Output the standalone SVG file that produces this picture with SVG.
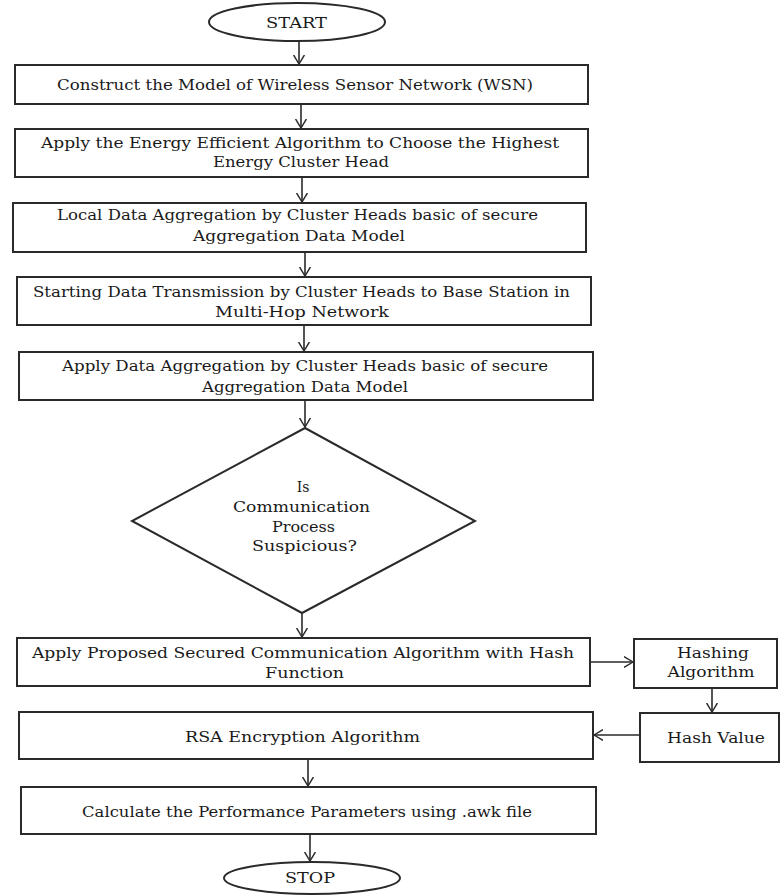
<svg xmlns="http://www.w3.org/2000/svg" width="783" height="895" viewBox="0 0 783 895">
<style>
  .shape { fill: #ffffff; stroke: #2a2a2a; stroke-width: 2; }
  .conn { fill: none; stroke: #2a2a2a; stroke-width: 1.6; }
  text { font-family: "DejaVu Serif", "Liberation Serif", serif; font-size: 14px; fill: #1a1a1a; text-anchor: middle; }
</style>
<defs>
  <marker id="arr" markerUnits="userSpaceOnUse" viewBox="0 0 10 12" refX="10" refY="6" markerWidth="9" markerHeight="12" orient="auto">
    <path d="M0,0 L10,6 L0,12" fill="none" stroke="#2a2a2a" stroke-width="1.6"/>
  </marker>
</defs>
<rect width="783" height="895" fill="#ffffff"/>

<g id="connectors">
  <line class="conn" x1="299" y1="41" x2="299" y2="64" marker-end="url(#arr)"/>
  <line class="conn" x1="301" y1="104" x2="301" y2="128" marker-end="url(#arr)"/>
  <line class="conn" x1="302" y1="177" x2="302" y2="202" marker-end="url(#arr)"/>
  <line class="conn" x1="305" y1="252" x2="305" y2="276" marker-end="url(#arr)"/>
  <line class="conn" x1="304" y1="325" x2="304" y2="351" marker-end="url(#arr)"/>
  <line class="conn" x1="305" y1="400" x2="305" y2="427" marker-end="url(#arr)"/>
  <line class="conn" x1="302" y1="613" x2="302" y2="637" marker-end="url(#arr)"/>
  <line class="conn" x1="590" y1="662" x2="633" y2="662" marker-end="url(#arr)"/>
  <line class="conn" x1="712" y1="688" x2="712" y2="712" marker-end="url(#arr)"/>
  <line class="conn" x1="640" y1="735" x2="594" y2="735" marker-end="url(#arr)"/>
  <line class="conn" x1="308" y1="759" x2="308" y2="786" marker-end="url(#arr)"/>
  <line class="conn" x1="310" y1="834" x2="310" y2="861" marker-end="url(#arr)"/>
</g>

<g id="start">
  <ellipse class="shape" cx="297" cy="22" rx="88" ry="19"/>
  <text x="296.5" y="28" textLength="61" lengthAdjust="spacingAndGlyphs">START</text>
</g>

<g id="construct">
  <rect class="shape" x="15" y="65" width="573" height="39"/>
  <text x="295" y="90" textLength="476" lengthAdjust="spacingAndGlyphs">Construct the Model of Wireless Sensor Network (WSN)</text>
</g>

<g id="energy">
  <rect class="shape" x="15" y="129" width="573" height="48"/>
  <text x="300" y="148" textLength="518" lengthAdjust="spacingAndGlyphs">Apply the Energy Efficient Algorithm to Choose the Highest</text>
  <text x="301" y="167" textLength="176" lengthAdjust="spacingAndGlyphs">Energy Cluster Head</text>
</g>

<g id="local">
  <rect class="shape" x="13" y="203" width="573" height="49"/>
  <text x="297.5" y="220" textLength="481" lengthAdjust="spacingAndGlyphs">Local Data Aggregation by Cluster Heads basic of secure</text>
  <text x="299" y="241" textLength="212" lengthAdjust="spacingAndGlyphs">Aggregation Data Model</text>
</g>

<g id="transmission">
  <rect class="shape" x="17" y="277" width="574" height="48"/>
  <text x="301.5" y="297" textLength="537" lengthAdjust="spacingAndGlyphs">Starting Data Transmission by Cluster Heads to Base Station in</text>
  <text x="302" y="317" textLength="174" lengthAdjust="spacingAndGlyphs">Multi-Hop Network</text>
</g>

<g id="apply-aggregation">
  <rect class="shape" x="19" y="352" width="574" height="48"/>
  <text x="305" y="371" textLength="486" lengthAdjust="spacingAndGlyphs">Apply Data Aggregation by Cluster Heads basic of secure</text>
  <text x="305" y="392" textLength="206" lengthAdjust="spacingAndGlyphs">Aggregation Data Model</text>
</g>

<g id="decision">
  <polygon class="shape" points="305,428 475,521 302,613 132,521"/>
  <text x="303" y="492">Is</text>
  <text x="301.5" y="512" textLength="137" lengthAdjust="spacingAndGlyphs">Communication</text>
  <text x="303.5" y="532" textLength="63" lengthAdjust="spacingAndGlyphs">Process</text>
  <text x="304.5" y="551" textLength="105" lengthAdjust="spacingAndGlyphs">Suspicious?</text>
</g>

<g id="secured">
  <rect class="shape" x="17" y="638" width="573" height="48"/>
  <text x="303" y="658" textLength="542" lengthAdjust="spacingAndGlyphs">Apply Proposed Secured Communication Algorithm with Hash</text>
  <text x="304.5" y="678" textLength="79" lengthAdjust="spacingAndGlyphs">Function</text>
</g>

<g id="hashing">
  <rect class="shape" x="634" y="639" width="143" height="49"/>
  <text x="713" y="658" textLength="72" lengthAdjust="spacingAndGlyphs">Hashing</text>
  <text x="711" y="677" textLength="87" lengthAdjust="spacingAndGlyphs">Algorithm</text>
</g>

<g id="hash-value">
  <rect class="shape" x="640" y="713" width="139" height="49"/>
  <text x="716" y="743" textLength="98" lengthAdjust="spacingAndGlyphs">Hash Value</text>
</g>

<g id="rsa">
  <rect class="shape" x="19" y="712" width="574" height="47"/>
  <text x="302.5" y="742" textLength="235" lengthAdjust="spacingAndGlyphs">RSA Encryption Algorithm</text>
</g>

<g id="performance">
  <rect class="shape" x="21" y="787" width="575" height="47"/>
  <text x="307" y="817" textLength="450" lengthAdjust="spacingAndGlyphs">Calculate the Performance Parameters using .awk file</text>
</g>

<g id="stop">
  <ellipse class="shape" cx="312" cy="878" rx="88" ry="16"/>
  <text x="310" y="883" textLength="50" lengthAdjust="spacingAndGlyphs">STOP</text>
</g>
</svg>
